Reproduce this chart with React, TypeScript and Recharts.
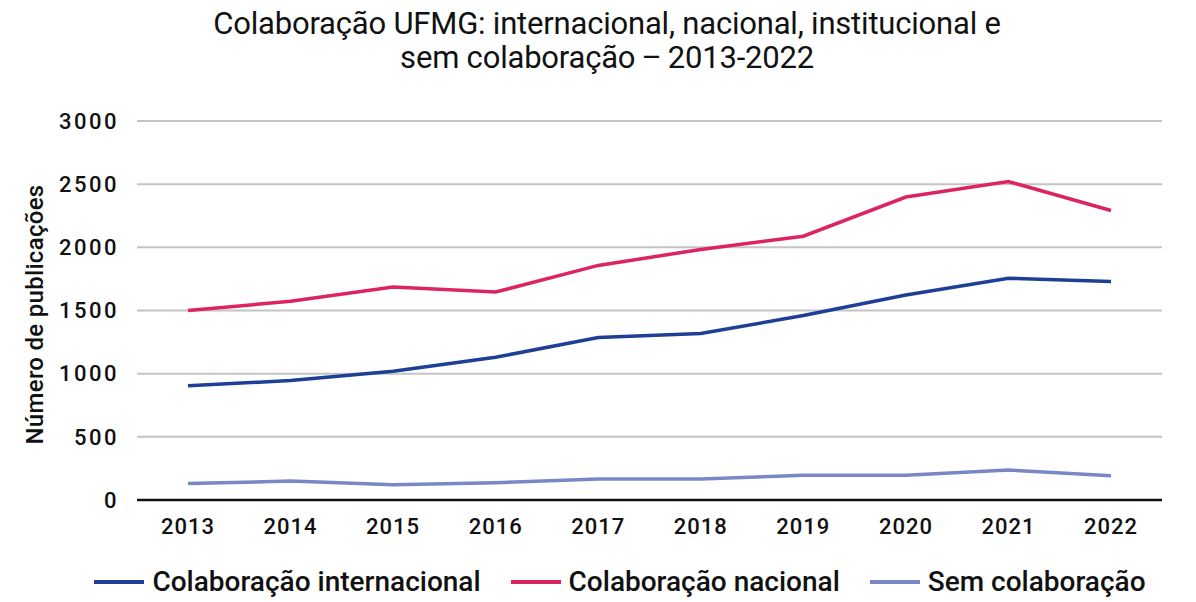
import React from 'react';
import { LineChart, Line, XAxis, YAxis, CartesianGrid } from 'recharts';

const years = ['2013', '2014', '2015', '2016', '2017', '2018', '2019', '2020', '2021', '2022'];
const internacional = [905, 945, 1020, 1130, 1287, 1318, 1460, 1622, 1755, 1730];
const nacional = [1500, 1573, 1686, 1646, 1857, 1983, 2088, 2398, 2521, 2292];
const semColaboracao = [130, 150, 121, 137, 166, 166, 195, 195, 237, 192];
const yTicks = [0, 500, 1000, 1500, 2000, 2500, 3000];

const series = [
    { key: 'internacional', name: 'Colaboração internacional', color: '#1e3f96' },
    { key: 'nacional', name: 'Colaboração nacional', color: '#dc2560' },
    { key: 'sem', name: 'Sem colaboração', color: '#7888c6' },
];

const data = years.map((year, i) => ({
    year,
    internacional: internacional[i],
    nacional: nacional[i],
    sem: semColaboracao[i],
}));

const baseTick = {
    fill: '#111',
    fontSize: 22,
    fontWeight: 500,
    fontFamily: 'Roboto, sans-serif',
};

const YLabel = ({ viewBox }: any) => {
    const cx = viewBox.x - 22;
    const cy = viewBox.y + viewBox.height / 2 + 4;
    return (
        <text
            x={cx}
            y={cy}
            transform={`rotate(-90, ${cx}, ${cy})`}
            textAnchor="middle"
            dominantBaseline="central"
            style={{ fontSize: 24, fontWeight: 500, fontFamily: 'Roboto, sans-serif', fill: '#111', letterSpacing: 0.3 }}
        >
            Número de publicações
        </text>
    );
};

export default function App() {
    return (
        <div style={{ position: 'absolute', left: 0, top: 0, width: 1196, height: 602, background: '#fff' }}>
            <div
                style={{
                    position: 'absolute',
                    left: 0,
                    top: 7,
                    width: 1214,
                    textAlign: 'center',
                    fontFamily: 'Roboto, sans-serif',
                    fontSize: 31,
                    lineHeight: '34px',
                    color: '#111',
                    letterSpacing: -0.2,
                }}
            >
                Colaboração UFMG: internacional, nacional, institucional e
                <br />
                {'sem colaboração\u2009–\u20092013-2022'}
            </div>
            <LineChart
                width={1196}
                height={602}
                data={data}
                margin={{ top: 121, right: 34, left: 57, bottom: 62 }}
                style={{ position: 'absolute', left: 0, top: 0 }}
            >
                <CartesianGrid vertical={false} stroke="#c4c4c4" strokeWidth={2} />
                <XAxis
                    dataKey="year"
                    height={40}
                    padding={{ left: 51, right: 51 }}
                    tickLine={false}
                    axisLine={{ stroke: '#111', strokeWidth: 2.5 }}
                    tick={{ ...baseTick, letterSpacing: 1 }}
                    tickMargin={12}
                />
                <YAxis
                    width={80}
                    domain={[0, 3000]}
                    ticks={yTicks}
                    interval={0}
                    axisLine={false}
                    tickLine={false}
                    tick={{ ...baseTick, letterSpacing: 2.5 }}
                    tickMargin={12}
                    label={<YLabel />}
                />
                {series.map((s) => (
                    <Line
                        key={s.key}
                        dataKey={s.key}
                        name={s.name}
                        stroke={s.color}
                        strokeWidth={3.5}
                        dot={false}
                        activeDot={false}
                        type="linear"
                        isAnimationActive={false}
                    />
                ))}
            </LineChart>
            <div
                style={{
                    position: 'absolute',
                    left: 0,
                    top: 564,
                    width: 1196,
                    display: 'flex',
                    justifyContent: 'center',
                    gap: 30,
                    paddingLeft: 44,
                    boxSizing: 'border-box',
                    fontFamily: 'Roboto, sans-serif',
                    fontWeight: 500,
                    fontSize: 28,
                    lineHeight: '36px',
                    color: '#111',
                }}
            >
                {series.map((s) => (
                    <div key={s.key} style={{ display: 'flex', alignItems: 'center' }}>
                        <span style={{ display: 'inline-block', width: 50, height: 4, background: s.color, marginRight: 8 }} />
                        <span>{s.name}</span>
                    </div>
                ))}
            </div>
        </div>
    );
}
